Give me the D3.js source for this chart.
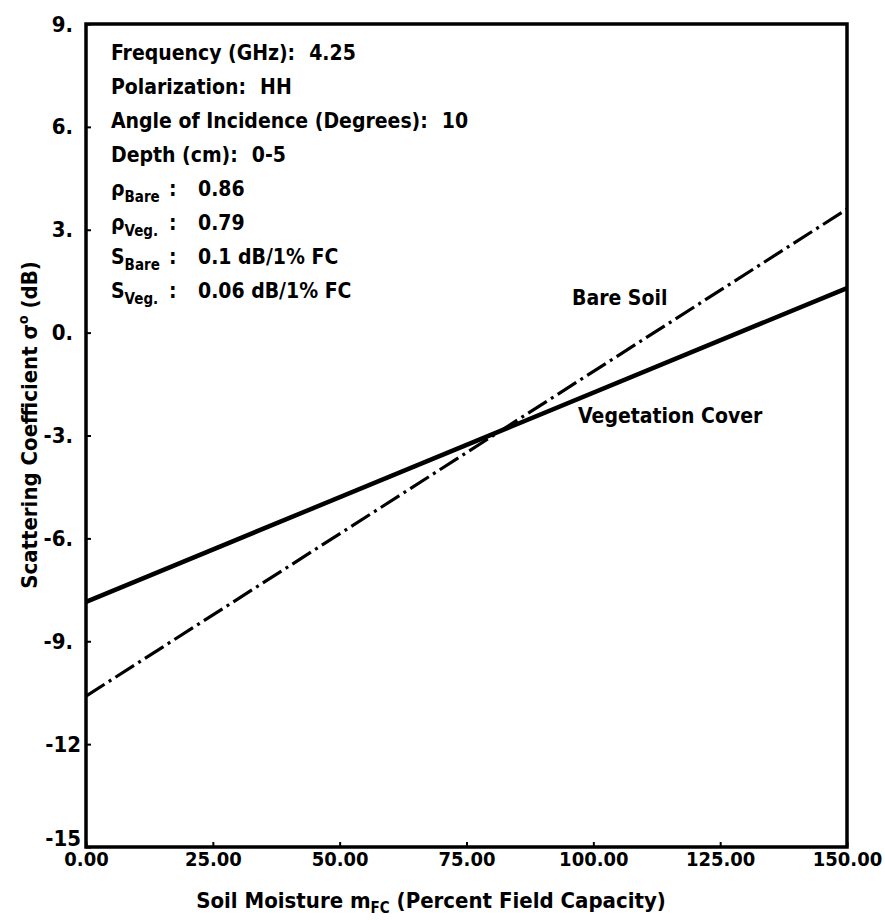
<!DOCTYPE html>
<html>
<head>
<meta charset="utf-8">
<script src="https://cdn.jsdelivr.net/npm/d3@7"></script>
<style>
  html, body { margin: 0; padding: 0; background: #fff; }
  svg { display: block; }
  text { font-family: "DejaVu Sans Condensed", "DejaVu Sans", sans-serif; font-stretch: condensed; fill: #000; }
</style>
</head>
<body>
<svg id="chart" width="885" height="920"></svg>
<script>
// ---- data ----
const xTicks = [0, 25, 50, 75, 100, 125, 150];
const xTickLabels = ["0.00", "25.00", "50.00", "75.00", "100.00", "125.00", "150.00"];
const yTicks = [9, 6, 3, 0, -3, -6, -9, -12, -15];
const yTickLabels = ["9.", "6.", "3.", "0.", "-3.", "-6.", "-9.", "-12", "-15"];

// soil moisture (% field capacity) end points of each regression line
const moisture = [0, 150];
const bareSoil = [-10.6, 3.6];        // dash-dot line
const vegetationCover = [-7.85, 1.3]; // solid line

const infoLabels = ["Frequency (GHz):", "Polarization:", "Angle of Incidence (Degrees):", "Depth (cm):"];
const infoValues = ["4.25", "HH", "10", "0-5"];
const paramSymbols = ["ρ", "ρ", "S", "S"];
const paramSubs = ["Bare", "Veg.", "Bare", "Veg."];
const paramValues = ["0.86", "0.79", "0.1 dB/1% FC", "0.06 dB/1% FC"];

const lineLabels = [
  { text: "Bare Soil", x: 95.8, y: 0.8 },
  { text: "Vegetation Cover", x: 97, y: -2.65 }
];

// ---- layout ----
const svg = d3.select("#chart");
const mLeft = 86, mRight = 847, mTop = 24, mBottom = 847;
const FONT = "'DejaVu Sans Condensed', 'DejaVu Sans', sans-serif";

const x = d3.scaleLinear().domain([0, 150]).range([mLeft, mRight]);
const y = d3.scaleLinear().domain([-15, 9]).range([mBottom, mTop]);

// frame
svg.append("rect")
  .attr("x", mLeft).attr("y", mTop)
  .attr("width", mRight - mLeft).attr("height", mBottom - mTop)
  .attr("fill", "none").attr("stroke", "#000").attr("stroke-width", 3.5);

// x axis ticks (inward)
const xAxis = d3.axisBottom(x).tickValues(xTicks).tickSizeInner(-5).tickSizeOuter(0)
  .tickFormat((d, i) => xTickLabels[i]).tickPadding(10);
const gx = svg.append("g").attr("transform", `translate(0,${mBottom})`).call(xAxis);
gx.select(".domain").remove();
gx.selectAll(".tick line").attr("stroke", "#000").attr("stroke-width", 2);
gx.selectAll(".tick text")
  .style("font-family", FONT)
  .style("font-size", "20px").style("font-weight", "bold")
  .attr("y", 5).attr("dy", "0.71em");

// y axis ticks (inward)
const yAxis = d3.axisLeft(y).tickValues(yTicks).tickSizeInner(-5).tickSizeOuter(0)
  .tickFormat((d, i) => yTickLabels[i]).tickPadding(5);
const gy = svg.append("g").attr("transform", `translate(${mLeft},0)`).call(yAxis);
gy.select(".domain").remove();
gy.selectAll(".tick line").attr("stroke", "#000").attr("stroke-width", 2);
gy.selectAll(".tick text")
  .style("font-family", FONT)
  .style("font-size", "22px").style("font-weight", "bold")
  .attr("x", (d, i) => yTickLabels[i].endsWith(".") ? -13 : -5)
  .attr("dy", (d, i) => d === -15 ? "-0.05em" : "0.32em");

// axis titles
const xt = svg.append("text")
  .attr("x", 431).attr("y", 908)
  .attr("text-anchor", "middle")
  .style("font-size", "22px").style("font-weight", "bold");
xt.append("tspan").text("Soil Moisture m");
xt.append("tspan").attr("dy", 5).style("font-size", "15px").text("FC");
xt.append("tspan").attr("dy", -5).text(" (Percent Field Capacity)");

const yt = svg.append("text")
  .attr("transform", "translate(37,425) rotate(-90)")
  .attr("text-anchor", "middle")
  .style("font-size", "22px").style("font-weight", "bold");
yt.append("tspan").text("Scattering Coefficient σ");
yt.append("tspan").attr("dy", -9).style("font-size", "14px").text("o");
yt.append("tspan").attr("dy", 9).text(" (dB)");

// lines
const line = d3.line().x(d => x(d[0])).y(d => y(d[1]));
svg.append("path")
  .datum(moisture.map((m, i) => [m, vegetationCover[i]]))
  .attr("d", line)
  .attr("fill", "none").attr("stroke", "#000").attr("stroke-width", 4.5);
svg.append("path")
  .datum(moisture.map((m, i) => [m, bareSoil[i]]))
  .attr("d", line)
  .attr("fill", "none").attr("stroke", "#000").attr("stroke-width", 3.2)
  .attr("stroke-dasharray", "22,5,3,5");

// info block
const rowStep = 34, firstRow = 60, textX = 111;
infoLabels.forEach((lab, i) => {
  const t = svg.append("text")
    .attr("x", textX).attr("y", firstRow + i * rowStep)
    .style("font-size", "21px").style("font-weight", "bold");
  t.append("tspan").text(lab);
  t.append("tspan").attr("dx", 14).text(infoValues[i]);
});
paramSymbols.forEach((s, i) => {
  const yy = firstRow + (infoLabels.length + i) * rowStep;
  const t = svg.append("text")
    .attr("x", textX).attr("y", yy)
    .style("font-size", "21px").style("font-weight", "bold");
  t.append("tspan").text(s);
  t.append("tspan").attr("dy", 6).style("font-size", "15px").text(paramSubs[i]);
  svg.append("text").attr("x", 169).attr("y", yy)
    .style("font-size", "21px").style("font-weight", "bold").text(":");
  svg.append("text").attr("x", 198).attr("y", yy)
    .style("font-size", "21px").style("font-weight", "bold").text(paramValues[i]);
});

// line labels
svg.selectAll(".line-label").data(lineLabels).enter().append("text")
  .attr("class", "line-label")
  .attr("x", d => x(d.x)).attr("y", d => y(d.y))
  .style("font-size", "21px").style("font-weight", "bold")
  .text(d => d.text);
</script>
</body>
</html>
